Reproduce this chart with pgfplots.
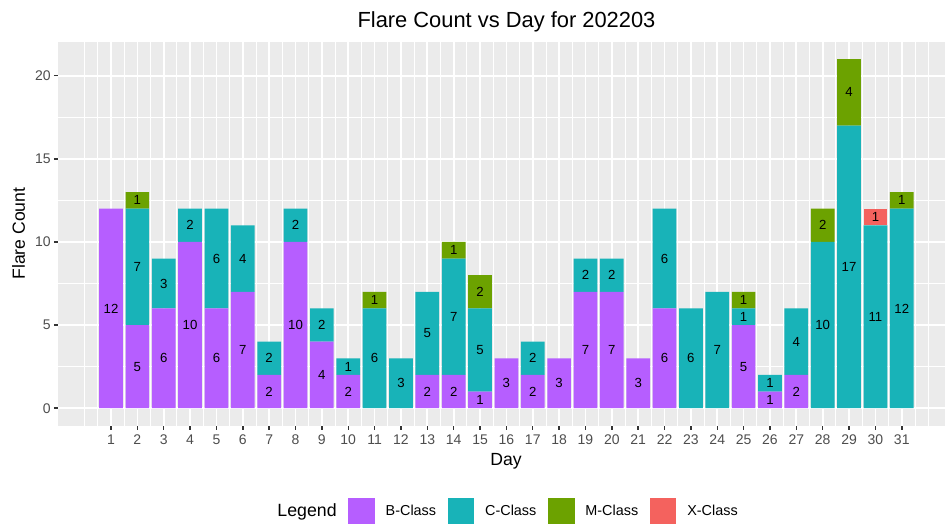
\documentclass[border=0pt]{standalone}
\usepackage{pgfplots}
\usepackage{pgfplotstable}
\pgfplotsset{compat=1.18}
\usepackage{fontspec}
\setmainfont{Liberation Sans}
\definecolor{bclass}{HTML}{B65EFF}
\definecolor{cclass}{HTML}{18B3B8}
\definecolor{mclass}{HTML}{6CA200}
\definecolor{xclass}{HTML}{F4625E}
\definecolor{panel}{HTML}{EBEBEB}
\definecolor{ticklab}{HTML}{4D4D4D}
\definecolor{tickcol}{HTML}{333333}

\pgfplotstableread{
day B C M X
1 12 0 0 0
2 5 7 1 0
3 6 3 0 0
4 10 2 0 0
5 6 6 0 0
6 7 4 0 0
7 2 2 0 0
8 10 2 0 0
9 4 2 0 0
10 2 1 0 0
11 0 6 1 0
12 0 3 0 0
13 2 5 0 0
14 2 7 1 0
15 1 5 2 0
16 3 0 0 0
17 2 2 0 0
18 3 0 0 0
19 7 2 0 0
20 7 2 0 0
21 3 0 0 0
22 6 6 0 0
23 0 6 0 0
24 0 7 0 0
25 5 1 1 0
26 1 1 0 0
27 2 4 0 0
28 0 10 2 0
29 0 17 4 0
30 0 11 0 1
31 0 12 1 0
}\flare

\pgfplotstableread{
x y lab
1 6 12
2 2.5 5
2 8.5 7
2 12.5 1
3 3 6
3 7.5 3
4 5 10
4 11 2
5 3 6
5 9 6
6 3.5 7
6 9 4
7 1 2
7 3 2
8 5 10
8 11 2
9 2 4
9 5 2
10 1 2
10 2.5 1
11 3 6
11 6.5 1
12 1.5 3
13 1 2
13 4.5 5
14 1 2
14 5.5 7
14 9.5 1
15 0.5 1
15 3.5 5
15 7 2
16 1.5 3
17 1 2
17 3 2
18 1.5 3
19 3.5 7
19 8 2
20 3.5 7
20 8 2
21 1.5 3
22 3 6
22 9 6
23 3 6
24 3.5 7
25 2.5 5
25 5.5 1
25 6.5 1
26 0.5 1
26 1.5 1
27 1 2
27 4 4
28 5 10
28 11 2
29 8.5 17
29 19 4
30 5.5 11
30 11.5 1
31 6 12
31 12.5 1
}\labels

\pgfplotsset{
  common/.style={
    scale only axis,
    width=665.25pt, height=288pt,
    xmin=-1.011, xmax=32.64,
    ymin=-1.05, ymax=22.05,
  }
}

\begin{document}
\begin{tikzpicture}
\begin{axis}[
  common,
  name=main,
  ybar stacked,
  bar width=0.9,
  axis background/.style={fill=panel},
  axis line style={draw=none},
  xtick={1,...,31},
  ytick={0,5,10,15,20},
  minor xtick={0,0.5,1.5,2.5,3.5,4.5,5.5,6.5,7.5,8.5,9.5,10.5,11.5,12.5,13.5,14.5,15.5,16.5,17.5,18.5,19.5,20.5,21.5,22.5,23.5,24.5,25.5,26.5,27.5,28.5,29.5,30.5,31.5,32},
  minor ytick={2.5,7.5,12.5,17.5},
  grid=both,
  major grid style={white, line width=1.3pt},
  minor grid style={white, line width=0.65pt},
  tick align=outside,
  major tick length=3pt,
  minor tick length=0pt,
  major tick style={tickcol, line width=1.1pt},
  xtick pos=bottom, ytick pos=left,
  /pgf/number format/assume math mode=true,
  tick label style={font=\fontsize{10.5}{12}\selectfont, text=ticklab},
  yticklabel style={xshift=1pt},
  title={Flare Count vs Day for 202203},
  title style={at={(axis description cs:0.5056,1)}, anchor=base, yshift=4.75pt, font=\fontsize{16.4}{19}\selectfont},
  xlabel={Day},
  xlabel style={at={(axis description cs:0.505,0)}, anchor=base, yshift=-30pt, font=\fontsize{13.2}{16}\selectfont},
  legend columns=-1,
  legend style={at={(axis description cs:0.5007,0)}, anchor=center, yshift=-64pt, draw=none, fill=none,
    font=\fontsize{10.8}{12}\selectfont, nodes={inner sep=0pt},
    /tikz/every odd column/.append style={column sep=8.2pt},
    /tikz/every even column/.append style={column sep=8.6pt}},
  legend cell align=left,
  legend image code/.code={\fill[#1] (0pt,-10pt) rectangle (20pt,10pt);},
]
\addlegendimage{empty legend}
\addlegendentry{\fontsize{13.3}{16}\selectfont Legend}
\addplot[fill=bclass, draw=none] table[x=day, y=B]{\flare};
\addlegendentry{B-Class}
\addplot[fill=cclass, draw=none] table[x=day, y=C]{\flare};
\addlegendentry{C-Class}
\addplot[fill=mclass, draw=none] table[x=day, y=M]{\flare};
\addlegendentry{M-Class}
\addplot[fill=xclass, draw=none] table[x=day, y=X]{\flare};
\addlegendentry{X-Class}
\end{axis}
\begin{axis}[
  common,
  hide axis,
]
\addplot[draw=none, mark=none, nodes near coords, point meta=explicit symbolic,
  nodes near coords align=center,
  every node near coord/.append style={font=\fontsize{9.9}{12}\selectfont, text=black, inner sep=0pt}]
  table[x=x, y=y, meta=lab]{\labels};
\end{axis}
\node[rotate=90, anchor=base, inner sep=0pt, font=\fontsize{13.2}{16}\selectfont] at ([xshift=-24.75pt]main.west) {Flare Count};
\pgfresetboundingbox
\path[use as bounding box] ([xshift=-43.5pt,yshift=-74.5pt]main.south west) rectangle ++(708.75pt,393.75pt);
\end{tikzpicture}
\end{document}
